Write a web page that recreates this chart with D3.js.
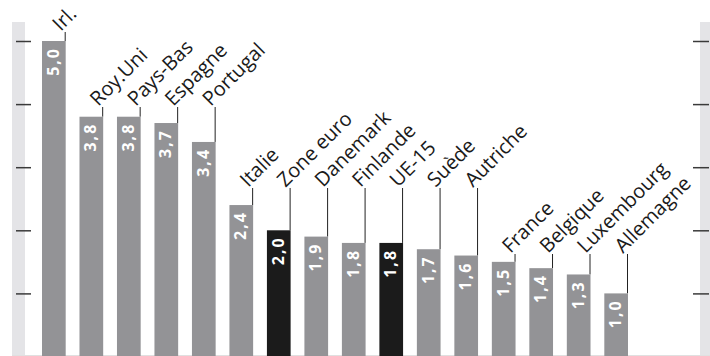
<!DOCTYPE html>
<html>
<head>
<meta charset="utf-8">
<script src="https://cdn.jsdelivr.net/npm/d3@7"></script>
<style>
  body { margin: 0; background: #fff; }
  svg { display: block; }
  .cat-label { font-family: "Open Sans", sans-serif; font-size: 20px; fill: #1a1a1a; }
  .val-label { font-family: "Open Sans", sans-serif; font-size: 16px; font-weight: bold; fill: #fff; letter-spacing: 2px; }
</style>
</head>
<body>
<svg id="chart"></svg>
<script>
// data
const countries = ['Irl.', 'Roy.Uni', 'Pays-Bas', 'Espagne', 'Portugal', 'Italie', 'Zone euro', 'Danemark',
  'Finlande', 'UE-15', 'Suède', 'Autriche', 'France', 'Belgique', 'Luxembourg', 'Allemagne'];
const values = [5.0, 3.8, 3.8, 3.7, 3.4, 2.4, 2.0, 1.9, 1.8, 1.8, 1.7, 1.6, 1.5, 1.4, 1.3, 1.0];
const aggregates = ['Zone euro', 'UE-15'];
// which row of staggered labels each country sits on
const labelRow = [0, 1, 1, 1, 1, 2, 2, 2, 2, 2, 2, 2, 3, 3, 3, 3];
const tickValues = [1, 2, 3, 4, 5];

const width = 710, height = 356;
const rowY = [32, 107, 188, 254];

const svg = d3.select('#chart')
  .attr('width', width)
  .attr('height', height);

const x = d3.scaleBand()
  .domain(countries)
  .range([42, 628])
  .paddingInner(0.368)
  .paddingOuter(0);

const y = d3.scaleLinear()
  .domain([0, 5])
  .range([356.5, 41]);

// grey side strips
svg.append('rect').attr('x', 12).attr('y', 22).attr('width', 13).attr('height', height - 22).attr('fill', '#e4e4e7');
svg.append('rect').attr('x', 700).attr('y', 22).attr('width', 10).attr('height', height - 22).attr('fill', '#e4e4e7');

// ticks left and right
const leftAxis = d3.axisRight(y).tickValues(tickValues).tickSize(15).tickFormat('');
svg.append('g')
  .attr('transform', 'translate(16,0)')
  .call(leftAxis)
  .call(g => g.select('.domain').remove())
  .call(g => g.selectAll('line').attr('stroke', '#3a3a3a').attr('stroke-width', 1.5));

const rightAxis = d3.axisLeft(y).tickValues(tickValues).tickSize(16).tickFormat('');
svg.append('g')
  .attr('transform', 'translate(709,0)')
  .call(rightAxis)
  .call(g => g.select('.domain').remove())
  .call(g => g.selectAll('line').attr('stroke', '#3a3a3a').attr('stroke-width', 1.5));

// faint baseline
svg.append('line')
  .attr('x1', 12).attr('x2', width)
  .attr('y1', 355.5).attr('y2', 355.5)
  .attr('stroke', '#e0e0e0');

const data = countries.map((c, i) => ({ country: c, value: values[i], row: labelRow[i] }));

// leader lines
svg.selectAll('.leader')
  .data(data)
  .join('line')
  .attr('class', 'leader')
  .attr('x1', d => x(d.country) + x.bandwidth() - 0.5)
  .attr('x2', d => x(d.country) + x.bandwidth() - 0.5)
  .attr('y1', d => rowY[d.row])
  .attr('y2', d => y(d.value))
  .attr('stroke', '#222')
  .attr('stroke-width', 1);

// bars
svg.selectAll('.bar')
  .data(data)
  .join('rect')
  .attr('class', 'bar')
  .attr('x', d => x(d.country))
  .attr('y', d => y(d.value))
  .attr('width', x.bandwidth())
  .attr('height', d => y(0) - y(d.value))
  .attr('fill', d => aggregates.includes(d.country) ? '#1b1b1b' : '#939396');

// values inside bars, reading upward
svg.selectAll('.val-label')
  .data(data)
  .join('text')
  .attr('class', 'val-label')
  .attr('transform', d => `translate(${x(d.country) + x.bandwidth() / 2 + 5},${y(d.value) + 6}) rotate(-90)`)
  .attr('text-anchor', 'end')
  .text(d => d3.format('.1f')(d.value).replace('.', ','));

// category labels at 45 degrees
svg.selectAll('.cat-label')
  .data(data)
  .join('text')
  .attr('class', 'cat-label')
  .attr('transform', d => `translate(${x(d.country) + x.bandwidth() - 5},${rowY[d.row]}) rotate(-45)`)
  .text(d => d.country);
</script>
</body>
</html>
